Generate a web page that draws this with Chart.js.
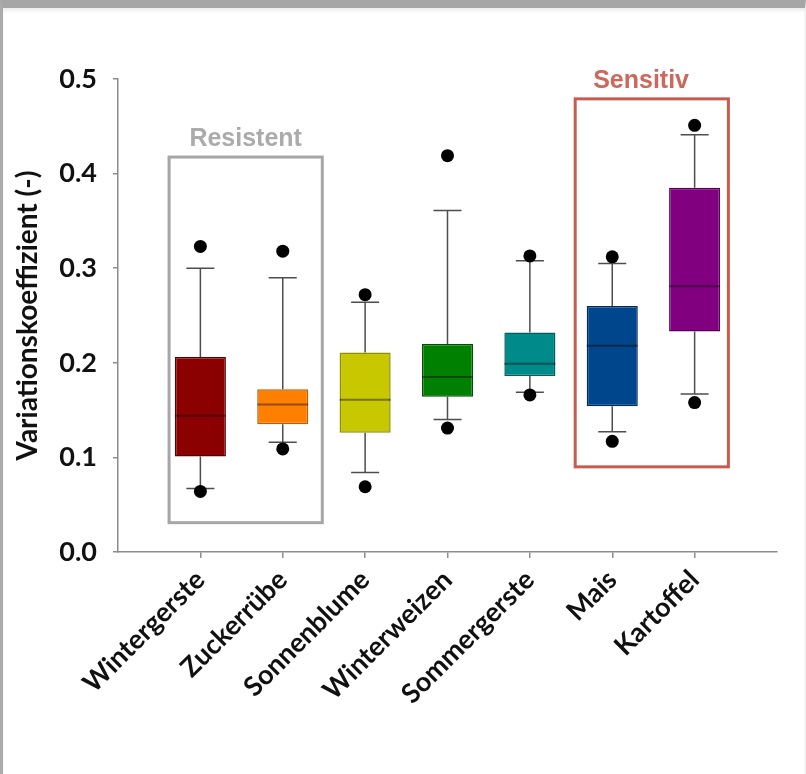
<!DOCTYPE html>
<html>
<head>
<meta charset="utf-8">
<title>Variationskoeffizient nach Kultur</title>
<script src="https://cdn.jsdelivr.net/npm/chart.js@4.4.1/dist/chart.umd.min.js"></script>
<style>
  html, body { margin: 0; padding: 0; background: #ffffff; }
  #wrap { position: relative; width: 806px; height: 774px; overflow: hidden; }
  #frame {
    position: absolute; left: 0; top: 0; width: 806px; height: 774px;
    box-sizing: border-box;
    border-top: 8px solid #a6a6a6;
    border-left: 3px solid #ababab;
    border-right: 1px solid #efefef;
    box-shadow: inset 0 3px 3px rgba(0, 0, 0, 0.07);
  }
  #chart { position: absolute; left: 0; top: 0; }
</style>
</head>
<body>
<div id="wrap">
  <div id="frame"></div>
  <canvas id="chart" width="806" height="774"></canvas>
</div>
<script>
// Crops along the x axis
const categories = ['Wintergerste', 'Zuckerrübe', 'Sonnenblume', 'Winterweizen', 'Sommergerste', 'Mais', 'Kartoffel'];

// Box-plot statistics of the coefficient of variation per crop
const whiskerLow  = [0.067, 0.116, 0.084, 0.140, 0.169, 0.127, 0.167];
const quartile1   = [0.101, 0.135, 0.126, 0.164, 0.186, 0.154, 0.233];
const medians     = [0.144, 0.156, 0.161, 0.185, 0.199, 0.218, 0.281];
const quartile3   = [0.206, 0.172, 0.211, 0.220, 0.232, 0.260, 0.385];
const whiskerHigh = [0.300, 0.290, 0.264, 0.361, 0.308, 0.305, 0.441];
const outlierLow  = [0.064, 0.109, 0.069, 0.131, 0.166, 0.117, 0.158];
const outlierHigh = [0.323, 0.318, 0.272, 0.419, 0.313, 0.312, 0.451];

// Value axis ticks
const yTicks = [0.0, 0.1, 0.2, 0.3, 0.4, 0.5];

// Box fill and outline colours per crop
const boxFill = ['#8b0000', '#ff8000', '#c8c800', '#008000', '#008b8b', '#00468c', '#800080'];
const boxEdge = ['#5c0000', '#c25e00', '#8e8e00', '#005200', '#005f5f', '#002d5e', '#560056'];

// Grouping frames around resistant / sensitive crops (in axis units)
const groups = [
  { text: 'Resistent', color: '#a6a6a6', textColor: '#ababab', x0: 0.62, x1: 2.48, y0: 0.031, y1: 0.4175, labelX: 1.55 },
  { text: 'Sensitiv',  color: '#c95a4e', textColor: '#cc685c', x0: 5.55, x1: 7.41, y0: 0.090, y1: 0.479,  labelX: 6.35 }
];

const CAP_HALF = 0.17;         // half width of the whisker caps, in category units
const WHISKER_COLOR = '#4d4d4d';
const AXIS_COLOR = '#8c8c8c';
const FONT_FAMILY = 'Lato, "Open Sans", sans-serif';
const TICK_FONT = { family: FONT_FAMILY, weight: 'bold', size: 27 };
const TITLE_FONT = { family: FONT_FAMILY, weight: 'bold', size: 28 };

const boxPlotParts = {
  id: 'boxPlotParts',
  beforeDatasetsDraw(chart) {
    const { ctx, scales: { x, y } } = chart;
    ctx.save();
    // grouping frames
    groups.forEach(g => {
      const l = x.getPixelForValue(g.x0), r = x.getPixelForValue(g.x1);
      const t = y.getPixelForValue(g.y1), b = y.getPixelForValue(g.y0);
      ctx.strokeStyle = g.color;
      ctx.lineWidth = 3;
      ctx.strokeRect(l, t, r - l, b - t);
      ctx.fillStyle = g.textColor;
      ctx.font = 'bold 25px "Liberation Sans", Arial, sans-serif';
      ctx.textAlign = 'center';
      ctx.textBaseline = 'alphabetic';
      ctx.fillText(g.text, x.getPixelForValue(g.labelX), t - 11);
    });
    // whiskers and caps
    ctx.strokeStyle = WHISKER_COLOR;
    ctx.lineWidth = 1.5;
    ctx.lineCap = 'butt';
    categories.forEach((c, i) => {
      const px = x.getPixelForValue(i + 1);
      const half = x.getPixelForValue(i + 1 + CAP_HALF) - px;
      ctx.beginPath();
      ctx.moveTo(px, y.getPixelForValue(whiskerLow[i]));
      ctx.lineTo(px, y.getPixelForValue(quartile1[i]));
      ctx.moveTo(px, y.getPixelForValue(quartile3[i]));
      ctx.lineTo(px, y.getPixelForValue(whiskerHigh[i]));
      [whiskerLow[i], whiskerHigh[i]].forEach(v => {
        const py = y.getPixelForValue(v);
        ctx.moveTo(px - half, py);
        ctx.lineTo(px + half, py);
      });
      ctx.stroke();
    });
    ctx.restore();
  },
  afterDatasetDraw(chart, args) {
    if (args.index !== 0) return;
    const { ctx, scales: { y } } = chart;
    const bars = chart.getDatasetMeta(0).data;
    ctx.save();
    ctx.strokeStyle = 'rgba(0, 0, 0, 0.42)';
    ctx.lineWidth = 2;
    bars.forEach((bar, i) => {
      const py = y.getPixelForValue(medians[i]);
      ctx.beginPath();
      ctx.moveTo(bar.x - bar.width / 2, py);
      ctx.lineTo(bar.x + bar.width / 2, py);
      ctx.stroke();
    });
    ctx.restore();
  }
};

const outliers = [];
categories.forEach((c, i) => {
  outliers.push({ x: i + 1, y: outlierLow[i] });
  outliers.push({ x: i + 1, y: outlierHigh[i] });
});

new Chart(document.getElementById('chart'), {
  type: 'bar',
  data: {
    datasets: [
      {
        type: 'bar',
        label: 'Box',
        data: categories.map((c, i) => ({ x: i + 1, y: [quartile1[i], quartile3[i]] })),
        backgroundColor: boxFill,
        borderColor: boxEdge,
        borderWidth: 1.5,
        borderSkipped: false,
        barPercentage: 0.62,
        categoryPercentage: 1,
        order: 2
      },
      {
        type: 'scatter',
        label: 'Ausreißer',
        data: outliers,
        pointRadius: 6.5,
        pointHoverRadius: 6.5,
        backgroundColor: '#000000',
        borderColor: '#000000',
        borderWidth: 0,
        order: 1
      }
    ]
  },
  options: {
    responsive: false,
    animation: false,
    events: [],
    layout: { padding: { top: 79, left: 11, right: 29, bottom: 0 } },
    plugins: {
      legend: { display: false },
      tooltip: { enabled: false }
    },
    scales: {
      x: {
        type: 'linear',
        min: 0,
        max: categories.length + 1,
        offset: false,
        afterBuildTicks(scale) {
          scale.ticks = categories.map((c, i) => ({ value: i + 1 }));
        },
        afterFit(scale) { scale.height = 774 - 552; },
        ticks: {
          autoSkip: false,
          minRotation: 45,
          maxRotation: 45,
          padding: 6,
          color: '#111111',
          font: TICK_FONT,
          callback: (v) => categories[v - 1] ?? ''
        },
        grid: {
          offset: false,
          drawOnChartArea: false,
          drawTicks: true,
          tickLength: 6,
          color: AXIS_COLOR,
          lineWidth: 1.5
        },
        border: { display: true, color: AXIS_COLOR, width: 1.5 }
      },
      y: {
        type: 'linear',
        min: 0,
        max: 0.5,
        afterBuildTicks(scale) {
          scale.ticks = yTicks.map(v => ({ value: v }));
        },
        afterFit(scale) { scale.width = 118 - 11; },
        ticks: {
          padding: 16,
          color: '#111111',
          font: TICK_FONT,
          callback: (v) => Number(v).toFixed(1)
        },
        grid: {
          drawOnChartArea: false,
          drawTicks: true,
          tickLength: 5,
          color: AXIS_COLOR,
          lineWidth: 1.5
        },
        border: { display: true, color: AXIS_COLOR, width: 1.5 },
        title: {
          display: true,
          text: 'Variationskoeffizient (-)',
          color: '#111111',
          font: TITLE_FONT,
          padding: { top: 0, bottom: 0 }
        }
      }
    }
  },
  plugins: [boxPlotParts]
});
</script>
</body>
</html>
